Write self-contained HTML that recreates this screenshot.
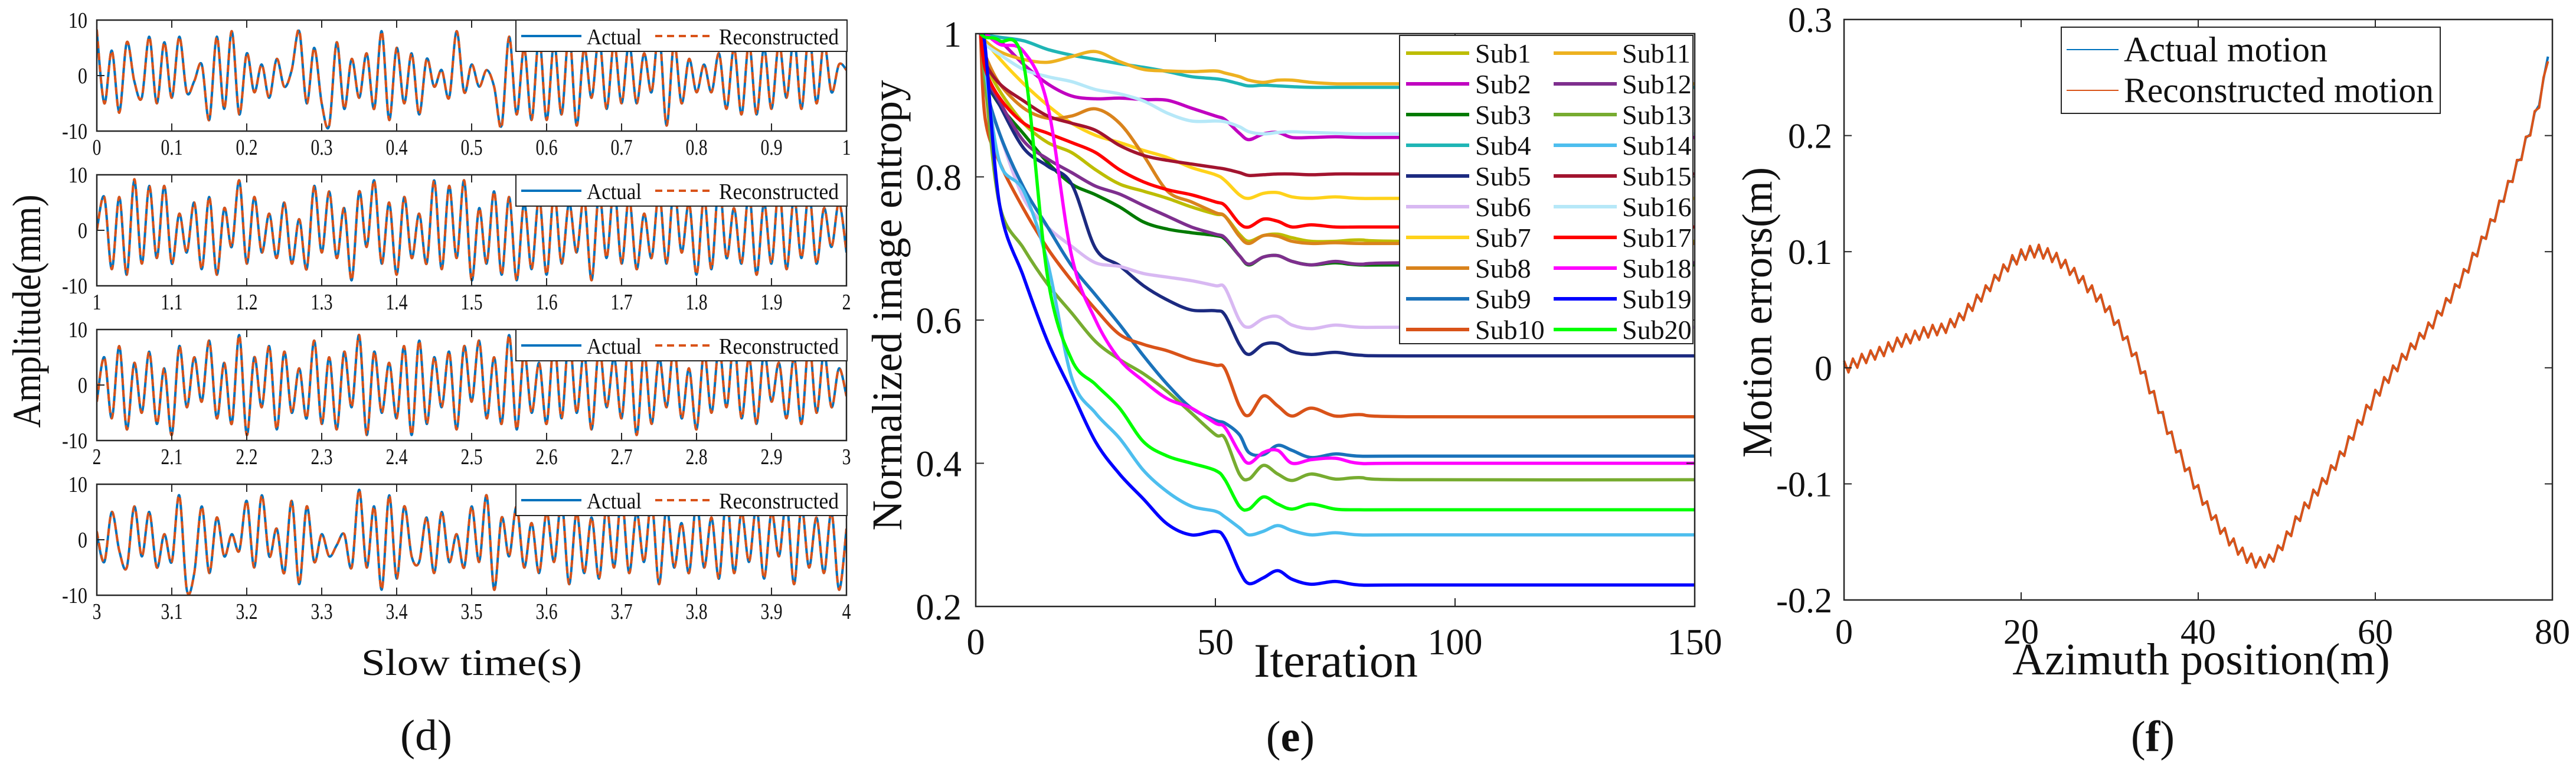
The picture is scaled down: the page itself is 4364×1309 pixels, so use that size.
<!DOCTYPE html>
<html><head><meta charset="utf-8"><style>
html,body{margin:0;padding:0;background:#fff;}
svg, svg text{font-family:"Liberation Serif","DejaVu Serif",serif;}
</style></head><body>
<svg id="fig" xmlns="http://www.w3.org/2000/svg" width="4364" height="1304" viewBox="0 0 4364 1304" font-family="Liberation Serif, serif">
<rect width="4364" height="1304" fill="#fff"/>
<g id="panelD"></g>
<g id="panelE"></g>
<g id="panelF"></g>
</svg>
<script>
// ---------- Panel (d) data ----------
const dSegStarts = [0, 1, 2, 3];
const dYTicks = [-10, 0, 10];
const dXTickSteps = [0,0.1,0.2,0.3,0.4,0.5,0.6,0.7,0.8,0.9,1];
const dActual1 = [8,-5,4.5,-6.5,6,-1,-4,7,-5,6,-4,7,-3,-1,2,-8,7,-6,8,-7,4,-3,2,-4,3,-2,1,8,-5,5,-5,-9,6,-6,3,-4,4,-6,8,-8,5,-5,4,-7,3,-2,1,-4,8,-3,2,-2,1,-2,-9,7,-7,5,-8,7,-8,6,-7,8,-9,5,-4,7,-6,6,-5,6,-5,4,-3,8,-9,6,-5,3,-3,2,-3,4,-6,5,-7,6,-7,5,-6,6,-4,7,-6,8,-5,6,-3,2,1];
const dActual2 = [0,6,-7,6,-8,9,-6,8,-5,8,-6,3,-4,5,-7,6,-8,4,-3,9,-6,6,-4,3,-5,5,-6,2,-7,8,-4,7,-5,4,-9,7,-3,9,-6,5,-8,6,-5,3,-6,9,-7,8,-5,9,-9,4,-6,7,-8,6,-9,5,-7,6,-8,7,-6,5,-4,6,-9,7,-5,8,-6,6,-7,3,-5,7,-6,8,-4,5,-8,6,-7,9,-5,4,-6,7,-8,5,-6,8,-7,6,-5,7,-6,4,-3,5,-4];
const dActual3 = [-3,5,-6,7,-8,4,-5,6,-7,3,-9,7,-4,5,-3,8,-6,4,-7,9,-9,5,-4,7,-8,6,-5,3,-6,8,-7,5,-8,6,-4,9,-9,6,-5,4,-6,7,-9,8,-7,5,-4,6,-8,7,-3,8,-6,5,-7,9,-8,6,-5,4,-7,8,-6,9,-5,6,-8,7,-4,5,-6,8,-9,6,-7,5,-4,7,-6,3,-8,6,-5,7,-4,8,-6,5,-7,6,-3,4,-6,5,-7,8,-5,6,-4,3,-2];
const dActual4 = [1,-4,5,-2,-5,6,-3,5,-5,1,-4,8,-9,-6,6,-6,4,-3,1,-2,7,-5,8,-3,2,-6,7,-8,6,-4,1,-3,-1,1,-5,9,-5,6,-9,8,-7,6,-3,-4,4,-6,5,-4,1,-5,6,-4,8,-9,4,-3,6,-5,3,-6,5,-4,7,-8,5,-6,4,-7,6,-5,8,-6,5,-4,7,-8,6,-5,3,-6,7,-5,4,-7,8,-6,5,-4,6,-7,5,-3,7,-8,6,-5,4,-6,5,-9,2];
const dRecon1 = [8.3,-5,4.5,-6.7,6,-1,-4,7,-5,6,-4,7,-3,-1,2,-8,7,-6,8,-7,4,-3,2,-4,3,-2,1,8.2,-5,5,-5,-9,6,-6,3,-4,4,-6,8,-8,5,-5,4,-7,3,-2,1,-4,8,-3,2,-2,1,-2,-9.3,7,-7,5,-8,7,-8,6,-7,8,-9,5,-4,7,-6,6,-5,6,-5,4,-3,8,-9,6,-5,3,-3,2,-3,4,-6,5,-7,6,-7,5,-6,6,-4,7,-6,8,-5,6,-3,2,1];
const dRecon2 = [0,6,-7,6,-8,9.2,-6,8,-5,8,-6,3,-4,5,-7,6,-8,4,-3,9,-6,6,-4,3,-5,5,-6,2,-7,8,-4,7,-5,4,-9,7,-3,9,-6,5,-8,6,-5,3,-6,9,-7,8,-5,9,-9,4,-6,7,-8,6,-9,5,-7,6,-8,7,-6,5,-4,6,-9,7,-5,8,-6,6,-7,3,-5,7,-6,8,-4,5,-8,6,-7,9,-5,4,-6,7,-8,5,-6,8,-7,6,-5,7,-6,4,-3,5,-4];
const dRecon3 = [-3,5,-6,7,-8,4,-5,6,-7,3,-9,7,-4,5,-3,8,-6,4,-7,9,-9,5,-4,7,-8,6,-5,3,-6,8,-7,5,-8,6,-4,9,-9,6,-5,4,-6,7,-9,8,-7,5,-4,6,-8,7,-3,8,-6,5,-7,9,-8,6,-5,4,-7,8,-6,9,-5,6,-8,7,-4,5,-6,8,-9,6,-7,5,-4,7,-6,3,-8,6,-5,7,-4,8,-6,5,-7,6,-3,4,-6,5,-7,8,-5,6,-4,3,-2];
const dRecon4 = [1.5,-4,5,-2,-5,6,-3,5,-5,1,-4,8,-9,-6,6,-6,4,-3,1,-2,7,-5,8,-3,2,-6,7,-8,6,-4,1,-3,-1,1,-5,9,-5,6,-9,8,-7,6,-3,-4,4,-6,5,-4,1,-5,6,-4,8,-9,4,-3,6,-5,3,-6,5,-4,7,-8,5,-6,4,-7,6,-5,8,-6,5,-4,7,-8,6,-5,3,-6,7,-5,4,-7,8,-6,5,-4,6,-7,5,-3,7,-8,6,-5,4,-6,5,-9,2];

// ---------- Panel (e) data ----------
const eIters = [1,2,5,10,15,20,25,30,35,40,45,50,52,55,57,60,63,66,70,75,80,90,150];
const eXTicks = [0,50,100,150];
const eYTicks = [0.2,0.4,0.6,0.8,1];
const eNames = ["Sub1","Sub2","Sub3","Sub4","Sub5","Sub6","Sub7","Sub8","Sub9","Sub10","Sub11","Sub12","Sub13","Sub14","Sub15","Sub16","Sub17","Sub18","Sub19","Sub20"];
const eSub1 = [1,0.96,0.92,0.875,0.848,0.834,0.81,0.79,0.78,0.77,0.758,0.748,0.745,0.72,0.71,0.718,0.72,0.715,0.71,0.71,0.712,0.71,0.71];
const eSub2 = [1,1,0.99,0.957,0.93,0.913,0.909,0.91,0.908,0.907,0.896,0.885,0.88,0.861,0.852,0.86,0.862,0.855,0.855,0.856,0.855,0.855,0.855];
const eSub3 = [1,0.94,0.90,0.86,0.82,0.79,0.775,0.758,0.737,0.727,0.722,0.718,0.713,0.69,0.677,0.688,0.69,0.682,0.677,0.68,0.677,0.677,0.677];
const eSub4 = [1,0.998,0.995,0.99,0.978,0.97,0.964,0.958,0.953,0.947,0.94,0.937,0.935,0.93,0.927,0.928,0.927,0.926,0.925,0.925,0.925,0.925,0.925];
const eSub5 = [1,0.94,0.90,0.84,0.815,0.79,0.70,0.676,0.648,0.628,0.614,0.613,0.607,0.566,0.552,0.566,0.567,0.556,0.552,0.555,0.551,0.55,0.55];
const eSub6 = [1,0.92,0.86,0.77,0.73,0.703,0.68,0.675,0.665,0.66,0.655,0.648,0.645,0.60,0.59,0.602,0.605,0.593,0.588,0.593,0.59,0.59,0.59];
const eSub7 = [1,0.99,0.965,0.93,0.90,0.875,0.858,0.848,0.837,0.827,0.813,0.803,0.795,0.775,0.77,0.777,0.778,0.772,0.77,0.772,0.77,0.77,0.77];
const eSub8 = [1,0.97,0.93,0.896,0.882,0.885,0.895,0.875,0.83,0.78,0.765,0.75,0.745,0.717,0.707,0.718,0.717,0.71,0.707,0.708,0.707,0.707,0.707];
const eSub9 = [1,0.93,0.86,0.785,0.73,0.676,0.635,0.594,0.55,0.51,0.477,0.46,0.456,0.44,0.415,0.412,0.425,0.418,0.408,0.413,0.41,0.41,0.41];
const eSub10 = [1,0.88,0.82,0.755,0.70,0.655,0.615,0.58,0.566,0.557,0.545,0.537,0.532,0.48,0.467,0.494,0.48,0.466,0.477,0.466,0.468,0.465,0.465];
const eSub11 = [1,0.99,0.975,0.964,0.96,0.968,0.975,0.961,0.95,0.948,0.947,0.948,0.945,0.94,0.935,0.932,0.935,0.935,0.932,0.93,0.93,0.93,0.93];
const eSub12 = [1,0.945,0.905,0.85,0.825,0.806,0.787,0.776,0.76,0.745,0.73,0.72,0.715,0.69,0.678,0.688,0.69,0.682,0.677,0.682,0.678,0.68,0.68];
const eSub13 = [1,0.93,0.76,0.70,0.65,0.61,0.57,0.545,0.525,0.50,0.47,0.44,0.435,0.385,0.378,0.397,0.385,0.376,0.385,0.378,0.38,0.377,0.377];
const eSub14 = [1,0.95,0.82,0.78,0.68,0.52,0.47,0.435,0.39,0.36,0.34,0.333,0.325,0.31,0.30,0.305,0.313,0.306,0.30,0.303,0.30,0.30,0.30];
const eSub15 = [1,0.96,0.93,0.906,0.885,0.875,0.865,0.844,0.83,0.823,0.818,0.813,0.811,0.806,0.802,0.803,0.804,0.804,0.803,0.804,0.804,0.804,0.804];
const eSub16 = [1,0.985,0.971,0.95,0.94,0.933,0.922,0.916,0.906,0.889,0.878,0.878,0.877,0.87,0.863,0.86,0.862,0.863,0.862,0.861,0.86,0.86,0.86];
const eSub17 = [1,0.95,0.91,0.875,0.861,0.848,0.834,0.81,0.793,0.782,0.775,0.765,0.76,0.735,0.73,0.741,0.738,0.73,0.733,0.73,0.73,0.73,0.73];
const eSub18 = [1,1,0.985,0.975,0.90,0.69,0.60,0.545,0.515,0.49,0.477,0.456,0.45,0.415,0.40,0.415,0.418,0.40,0.405,0.407,0.40,0.40,0.40];
const eSub19 = [1,0.98,0.76,0.66,0.57,0.50,0.43,0.385,0.35,0.315,0.30,0.305,0.295,0.25,0.232,0.24,0.25,0.238,0.231,0.235,0.23,0.23,0.23];
const eSub20 = [1,0.995,0.99,0.957,0.66,0.545,0.51,0.477,0.43,0.41,0.40,0.39,0.377,0.34,0.336,0.353,0.343,0.336,0.343,0.336,0.335,0.335,0.335];

// ---------- Panel (f) data ----------
const fXTicks = [0,20,40,60,80];
const fYTicks = [-0.2,-0.1,0,0.1,0.2,0.3];
const fPosStep = [0, 0.5];
const fActual = [0.004,-0.003,0.007,0.001,0.011,0.005,0.014,0.008,0.017,0.011,0.021,0.015,0.025,0.019,0.028,0.022,0.031,0.025,0.034,0.027,0.036,0.029,0.037,0.031,0.041,0.036,0.046,0.042,0.054,0.050,0.062,0.058,0.070,0.067,0.079,0.076,0.088,0.084,0.095,0.090,0.100,0.094,0.103,0.096,0.104,0.095,0.102,0.092,0.098,0.087,0.092,0.081,0.085,0.074,0.078,0.066,0.070,0.058,0.062,0.049,0.052,0.038,0.040,0.025,0.026,0.011,0.012,-0.004,-0.004,-0.021,-0.021,-0.038,-0.039,-0.056,-0.056,-0.072,-0.072,-0.088,-0.087,-0.103,-0.102,-0.117,-0.116,-0.130,-0.128,-0.142,-0.139,-0.152,-0.148,-0.160,-0.156,-0.167,-0.161,-0.171,-0.164,-0.171,-0.162,-0.166,-0.154,-0.156,-0.142,-0.144,-0.129,-0.131,-0.117,-0.120,-0.106,-0.109,-0.096,-0.099,-0.085,-0.087,-0.073,-0.075,-0.060,-0.061,-0.046,-0.048,-0.033,-0.035,-0.020,-0.023,-0.009,-0.012,0.001,-0.002,0.011,0.008,0.020,0.017,0.029,0.026,0.038,0.035,0.048,0.046,0.059,0.057,0.071,0.070,0.084,0.083,0.098,0.097,0.112,0.112,0.127,0.127,0.143,0.144,0.160,0.161,0.178,0.180,0.198,0.201,0.220,0.226,0.249,0.268];
const fRecon = [0.006,-0.004,0.008,0.000,0.012,0.004,0.015,0.007,0.018,0.010,0.022,0.014,0.026,0.018,0.029,0.021,0.032,0.024,0.035,0.026,0.037,0.028,0.038,0.030,0.042,0.035,0.047,0.041,0.055,0.049,0.063,0.057,0.071,0.066,0.080,0.075,0.089,0.083,0.097,0.089,0.102,0.093,0.105,0.095,0.106,0.094,0.103,0.091,0.099,0.086,0.093,0.080,0.086,0.073,0.079,0.065,0.071,0.057,0.063,0.048,0.053,0.037,0.041,0.024,0.027,0.010,0.013,-0.005,-0.003,-0.022,-0.020,-0.039,-0.038,-0.057,-0.055,-0.073,-0.071,-0.089,-0.086,-0.104,-0.101,-0.118,-0.115,-0.131,-0.127,-0.143,-0.138,-0.153,-0.147,-0.161,-0.155,-0.168,-0.160,-0.172,-0.163,-0.172,-0.161,-0.167,-0.153,-0.157,-0.141,-0.145,-0.128,-0.132,-0.116,-0.121,-0.105,-0.110,-0.095,-0.100,-0.084,-0.088,-0.072,-0.076,-0.059,-0.062,-0.045,-0.049,-0.032,-0.036,-0.019,-0.024,-0.008,-0.013,0.002,-0.003,0.012,0.007,0.021,0.016,0.030,0.025,0.039,0.034,0.049,0.045,0.060,0.056,0.072,0.069,0.085,0.082,0.099,0.096,0.113,0.111,0.128,0.126,0.144,0.143,0.161,0.160,0.179,0.179,0.199,0.200,0.221,0.224,0.250,0.264];

const NS = "http://www.w3.org/2000/svg";
function mk(parent, tag, attrs, txt) {
  const el = document.createElementNS(NS, tag);
  for (const k in attrs) el.setAttribute(k, attrs[k]);
  if (txt !== undefined) el.textContent = txt;
  parent.appendChild(el);
  return el;
}
function smoothPath(pts) {
  let d = "M" + pts[0][0].toFixed(1) + "," + pts[0][1].toFixed(1);
  for (let i = 0; i < pts.length - 1; i++) {
    const p0 = pts[Math.max(0, i - 1)], p1 = pts[i], p2 = pts[i + 1], p3 = pts[Math.min(pts.length - 1, i + 2)];
    const c1x = p1[0] + (p2[0] - p0[0]) / 6, c1y = p1[1] + (p2[1] - p0[1]) / 6;
    const c2x = p2[0] - (p3[0] - p1[0]) / 6, c2y = p2[1] - (p3[1] - p1[1]) / 6;
    d += "C" + c1x.toFixed(1) + "," + c1y.toFixed(1) + " " + c2x.toFixed(1) + "," + c2y.toFixed(1) + " " + p2[0].toFixed(1) + "," + p2[1].toFixed(1);
  }
  return d;
}
function linePath(pts) {
  return pts.map((p, i) => (i ? "L" : "M") + p[0].toFixed(1) + "," + p[1].toFixed(1)).join("");
}
const AX = "#262626";

// ================= Panel D =================
(function () {
  const g = document.getElementById("panelD");
  const L = 164, R = 1434, H = 188;
  const tops = [34, 296, 558, 820];
  const actual = [dActual1, dActual2, dActual3, dActual4];
  const recon = [dRecon1, dRecon2, dRecon3, dRecon4];
  const defs = mk(g, "defs", {});
  dSegStarts.forEach((s, k) => {
    const T = tops[k], B = T + H;
    const xs = v => L + (v - s) * (R - L);
    const ys = v => B - (v + 10) / 20 * H;
    const sub = mk(g, "g", {});
    
    
    const cp = mk(defs, "clipPath", { id: "clipD" + k });
    mk(cp, "rect", { x: L, y: T, width: R - L, height: H });
    const toPts = arr => arr.map((v, i) => [xs(s + i / (arr.length - 1)), ys(v)]);
    const a = mk(sub, "path", { d: smoothPath(toPts(actual[k])), fill: "none", stroke: "#0072BD", "stroke-width": 4, "clip-path": "url(#clipD" + k + ")" });
    
    
    const r = mk(sub, "path", { d: smoothPath(toPts(recon[k])), fill: "none", stroke: "#D95319", "stroke-width": 4, "stroke-dasharray": "12 8", "clip-path": "url(#clipD" + k + ")" });
    
    
    mk(sub, "rect", { x: L, y: T, width: R - L, height: H, fill: "none", stroke: AX, "stroke-width": 2.5 });
    dXTickSteps.forEach(t => {
      const x = xs(s + t);
      mk(sub, "line", { x1: x, y1: B, x2: x, y2: B - 13, stroke: AX, "stroke-width": 2 });
      mk(sub, "line", { x1: x, y1: T, x2: x, y2: T + 13, stroke: AX, "stroke-width": 2 });
      const lab = Math.round((s + t) * 10) / 10;
      const tl = mk(sub, "text", { x: x, y: B + 40, "font-size": 38, "text-anchor": "middle", fill: "#111", transform: "translate(" + x + "," + (B + 40) + ") scale(0.78,1) translate(" + (-x) + "," + (-(B + 40)) + ")" }, String(lab));
      
      
    });
    dYTicks.forEach(t => {
      const y = ys(t);
      mk(sub, "line", { x1: L, y1: y, x2: L + 13, y2: y, stroke: AX, "stroke-width": 2 });
      const tl = mk(sub, "text", { x: 148, y: y + 13, "font-size": 38, "text-anchor": "end", fill: "#111", transform: "translate(148," + (y + 13) + ") scale(0.85,1) translate(-148," + (-(y + 13)) + ")" }, String(t));
      
      
    });
    const lg = mk(sub, "g", {});
    
    
    mk(lg, "rect", { x: 874, y: T, width: 561, height: 53, fill: "#fff", stroke: AX, "stroke-width": 2 });
    mk(lg, "line", { x1: 883, y1: T + 27, x2: 985, y2: T + 27, stroke: "#0072BD", "stroke-width": 4 });
    mk(lg, "text", { x: 994, y: T + 41, "font-size": 38, fill: "#111", textLength: 93, lengthAdjust: "spacingAndGlyphs" }, "Actual");
    mk(lg, "line", { x1: 1110, y1: T + 27, x2: 1209, y2: T + 27, stroke: "#D95319", "stroke-width": 4, "stroke-dasharray": "12 8" });
    mk(lg, "text", { x: 1218, y: T + 41, "font-size": 38, fill: "#111", textLength: 203, lengthAdjust: "spacingAndGlyphs" }, "Reconstructed");
  });
  const yl = mk(g, "text", { x: 0, y: 0, "font-size": 68, "text-anchor": "middle", fill: "#111", textLength: 395, lengthAdjust: "spacingAndGlyphs", transform: "translate(68,527) rotate(-90)" }, "Amplitude(mm)");
  
  
  const xl = mk(g, "text", { x: 799, y: 1143, "font-size": 64, "text-anchor": "middle", fill: "#111", textLength: 374, lengthAdjust: "spacingAndGlyphs" }, "Slow time(s)");
  
  
  const pl = mk(g, "text", { x: 722, y: 1270, "font-size": 74, "text-anchor": "middle", fill: "#111", textLength: 88, lengthAdjust: "spacingAndGlyphs" }, "(d)");
  
  
})();

// ================= Panel E =================
(function () {
  const g = document.getElementById("panelE");
  const L = 1653, R = 2871, T = 57, B = 1027;
  const xs = v => L + v / 150 * (R - L);
  const ys = v => B - (v - 0.2) / 0.8 * (B - T);
  const series = [eSub1,eSub2,eSub3,eSub4,eSub5,eSub6,eSub7,eSub8,eSub9,eSub10,eSub11,eSub12,eSub13,eSub14,eSub15,eSub16,eSub17,eSub18,eSub19,eSub20];
  const colors = ["#BDBD00","#C000C0","#007A00","#1FB5B5","#1C2A80","#D8B8F2","#FFD21A","#D9831C","#1A72BA","#D95319","#EDB120","#7E2F8E","#77AC30","#4DBEEE","#A2142F","#B6E8F8","#FF0000","#FF00FF","#0000FF","#00FF00"];
  const defs = mk(g, "defs", {});
  const cp = mk(defs, "clipPath", { id: "clipE" });
  mk(cp, "rect", { x: L, y: T, width: R - L, height: B - T });
  series.forEach((arr, k) => {
    const pts = arr.map((v, i) => [xs(eIters[i]), ys(v)]);
    const p = mk(g, "path", { d: smoothPath(pts), fill: "none", stroke: colors[k], "stroke-width": 5.5, "stroke-linejoin": "round", "clip-path": "url(#clipE)" });
    
    
  });
  mk(g, "rect", { x: L, y: T, width: R - L, height: B - T, fill: "none", stroke: AX, "stroke-width": 2.5 });
  eXTicks.forEach(t => {
    const x = xs(t);
    mk(g, "line", { x1: x, y1: B, x2: x, y2: B - 14, stroke: AX, "stroke-width": 2 });
    mk(g, "line", { x1: x, y1: T, x2: x, y2: T + 14, stroke: AX, "stroke-width": 2 });
    const tl = mk(g, "text", { x: x, y: 1108, "font-size": 62, "text-anchor": "middle", fill: "#111" }, String(t));
    
    
  });
  eYTicks.forEach(t => {
    const y = ys(t);
    mk(g, "line", { x1: L, y1: y, x2: L + 14, y2: y, stroke: AX, "stroke-width": 2 });
    mk(g, "line", { x1: R, y1: y, x2: R - 14, y2: y, stroke: AX, "stroke-width": 2 });
    const tl = mk(g, "text", { x: 1629, y: y + 22, "font-size": 62, "text-anchor": "end", fill: "#111" }, String(t));
    
    
  });
  const lg = mk(g, "g", {});
  
  
  mk(lg, "rect", { x: 2371, y: 60, width: 497, height: 522, fill: "#fff", stroke: AX, "stroke-width": 2 });
  eNames.forEach((n, k) => {
    const col = k < 10 ? 0 : 1, row = k % 10;
    const y = 90 + row * 52;
    const lx = col ? 2632 : 2382, tx = col ? 2748 : 2499;
    const e = mk(lg, "g", {});
    
    
    mk(e, "line", { x1: lx, y1: y, x2: lx + 107, y2: y, stroke: colors[k], "stroke-width": 6 });
    mk(e, "text", { x: tx, y: y + 16, "font-size": 46, fill: "#111" }, n);
  });
  const xl = mk(g, "text", { x: 2263, y: 1146, "font-size": 82, "text-anchor": "middle", fill: "#111" }, "Iteration");
  
  
  const yl = mk(g, "text", { x: 0, y: 0, "font-size": 72, "text-anchor": "middle", fill: "#111", textLength: 763, lengthAdjust: "spacingAndGlyphs", transform: "translate(1527,517) rotate(-90)" }, "Normalized image entropy");
  
  
  const pl = mk(g, "text", { x: 2186, y: 1272, "font-size": 74, "text-anchor": "middle", fill: "#111" });
  
  
  mk(pl, "tspan", {}, "(");
  mk(pl, "tspan", { "font-weight": "bold" }, "e");
  mk(pl, "tspan", {}, ")");
})();

// ================= Panel F =================
(function () {
  const g = document.getElementById("panelF");
  const L = 3124, R = 4324, T = 33, B = 1016;
  const xs = v => L + v / 80 * (R - L);
  const ys = v => B - (v + 0.2) / 0.5 * (B - T);
  const toPts = arr => arr.map((v, i) => [xs(fPosStep[0] + i * fPosStep[1]), ys(v)]);
  const a = mk(g, "path", { d: linePath(toPts(fActual)), fill: "none", stroke: "#0072BD", "stroke-width": 4, "stroke-linejoin": "round" });
  
  
  const r = mk(g, "path", { d: linePath(toPts(fRecon)), fill: "none", stroke: "#D95319", "stroke-width": 4, "stroke-linejoin": "round" });
  
  
  mk(g, "rect", { x: L, y: T, width: R - L, height: B - T, fill: "none", stroke: AX, "stroke-width": 2.5 });
  fXTicks.forEach(t => {
    const x = xs(t);
    mk(g, "line", { x1: x, y1: B, x2: x, y2: B - 13, stroke: AX, "stroke-width": 2 });
    mk(g, "line", { x1: x, y1: T, x2: x, y2: T + 13, stroke: AX, "stroke-width": 2 });
    const tl = mk(g, "text", { x: x, y: 1090, "font-size": 60, "text-anchor": "middle", fill: "#111" }, String(t));
    
    
  });
  fYTicks.forEach(t => {
    const y = ys(t);
    mk(g, "line", { x1: L, y1: y, x2: L + 13, y2: y, stroke: AX, "stroke-width": 2 });
    mk(g, "line", { x1: R, y1: y, x2: R - 13, y2: y, stroke: AX, "stroke-width": 2 });
    const tl = mk(g, "text", { x: 3104, y: y + 21, "font-size": 60, "text-anchor": "end", fill: "#111" }, String(t));
    
    
  });
  const lg = mk(g, "g", {});
  
  
  mk(lg, "rect", { x: 3492, y: 46, width: 642, height: 146, fill: "#fff", stroke: AX, "stroke-width": 2 });
  mk(lg, "line", { x1: 3501, y1: 84, x2: 3589, y2: 84, stroke: "#0072BD", "stroke-width": 2 });
  mk(lg, "text", { x: 3598, y: 104, "font-size": 60, fill: "#111" }, "Actual motion");
  mk(lg, "line", { x1: 3501, y1: 153, x2: 3589, y2: 153, stroke: "#D95319", "stroke-width": 2 });
  mk(lg, "text", { x: 3598, y: 173, "font-size": 60, fill: "#111", textLength: 525, lengthAdjust: "spacingAndGlyphs" }, "Reconstructed motion");
  const xl = mk(g, "text", { x: 3729, y: 1142, "font-size": 76, "text-anchor": "middle", fill: "#111" }, "Azimuth position(m)");
  
  
  const yl = mk(g, "text", { x: 0, y: 0, "font-size": 72, "text-anchor": "middle", fill: "#111", textLength: 492, lengthAdjust: "spacingAndGlyphs", transform: "translate(3001,529) rotate(-90)" }, "Motion errors(m)");
  
  
  const pl = mk(g, "text", { x: 3647, y: 1272, "font-size": 74, "text-anchor": "middle", fill: "#111" });
  
  
  mk(pl, "tspan", {}, "(");
  mk(pl, "tspan", { "font-weight": "bold" }, "f");
  mk(pl, "tspan", {}, ")");
})();
</script>
</body></html>
